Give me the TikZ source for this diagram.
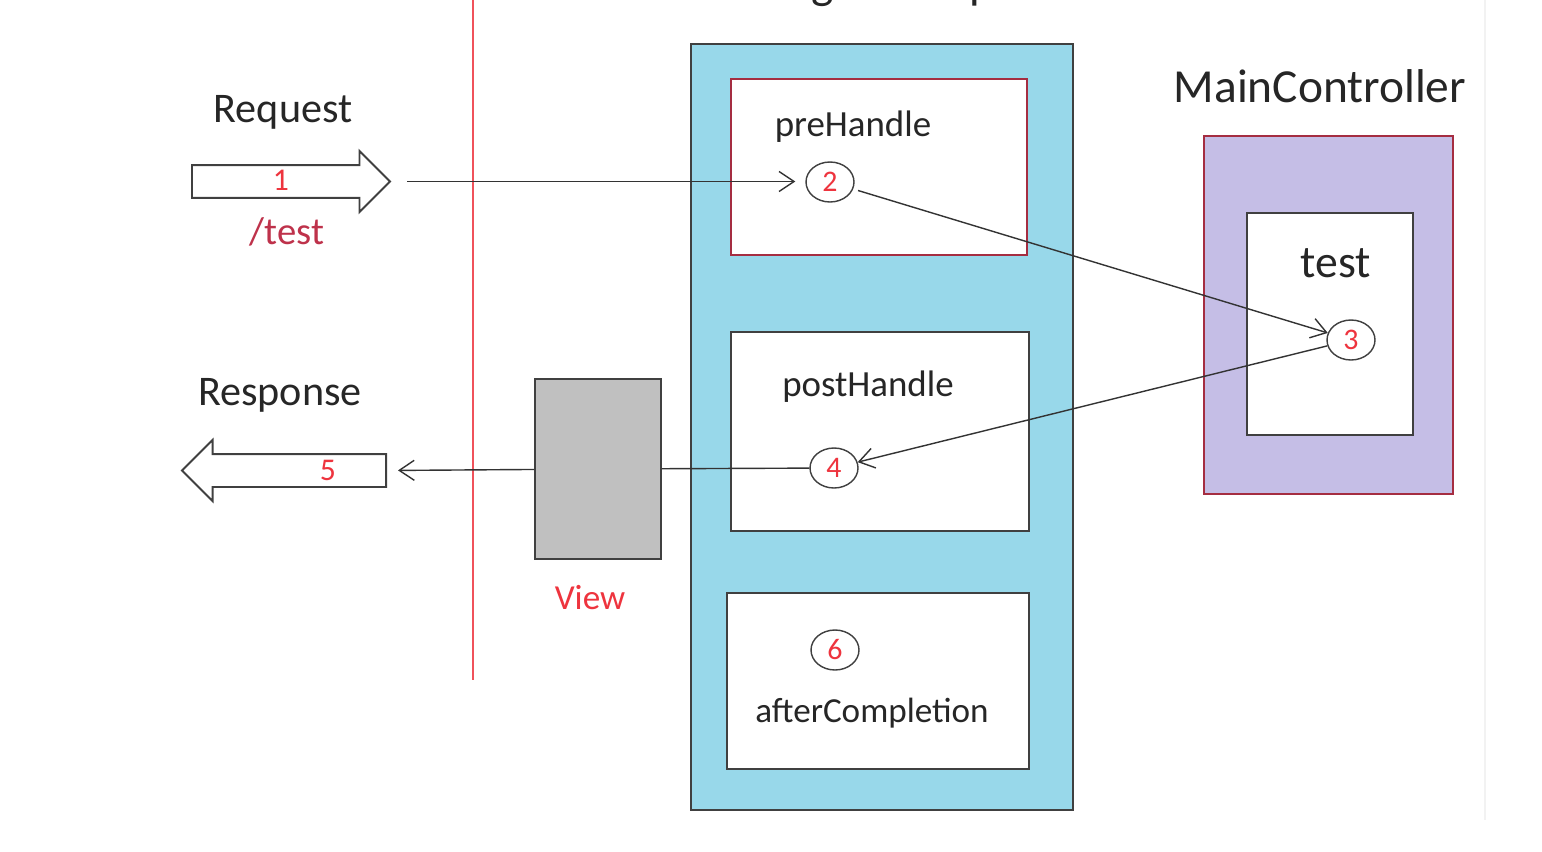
\documentclass[tikz,border=0pt]{standalone}
\usepackage{fontspec}
\setmainfont{Carlito}
\usetikzlibrary{shapes.geometric, shapes.arrows, arrows.meta}
\definecolor{icptblue}{RGB}{152,216,234}
\definecolor{ctrlpurple}{RGB}{197,190,230}
\definecolor{darkred}{RGB}{165,45,65}
\definecolor{numred}{RGB}{238,52,62}
\definecolor{pathred}{RGB}{190,50,75}
\definecolor{viewgray}{RGB}{192,192,192}
\begin{document}
\begin{tikzpicture}[x=0.02cm, y=-0.02cm, >={Straight Barb[length=3mm,width=4mm]},
        box/.style={rectangle, draw=black!75, line width=1.1pt, fill=white},
        num/.style={ellipse, draw=black!75, line width=0.8pt, fill=white, minimum width=0.96cm, minimum height=0.8cm, inner sep=0pt, text=numred, font=\fontsize{17}{20}\selectfont},
        lbl/.style={text=black!85, inner sep=0pt},
        fat/.style={single arrow, draw=black!75, line width=1.1pt, fill=white, inner xsep=0pt, inner ysep=0.31cm, single arrow head extend=0.28cm, anchor=tail},
        flow/.style={draw=black!80, line width=0.8pt}]
        \useasboundingbox (0,0) rectangle (1542,852);
        \draw[black!5, line width=1pt] (1485,0) -- (1485,820);
        \draw[numred!85, line width=1.2pt] (473,0) -- (473,680);
        \node[lbl, anchor=base, font=\fontsize{27}{32}\selectfont] (icpt) at (909,-2) {LogInterceptor};
        \node[box, fill=icptblue, minimum width=7.64cm, minimum height=15.32cm] (inter) at (882,427) {};
        \node[box, draw=darkred, minimum width=5.92cm, minimum height=3.52cm] (pre) at (879,167) {};
        \node[box, minimum width=5.96cm, minimum height=3.98cm] (post) at (880,431.5) {};
        \node[box, minimum width=6.04cm, minimum height=3.52cm] (after) at (878,681) {};
        \node[lbl, font=\fontsize{21}{24}\selectfont] (prelbl) at (853,127) {preHandle};
        \node[lbl, font=\fontsize{21}{24}\selectfont] (postlbl) at (868,387) {postHandle};
        \node[lbl, font=\fontsize{20}{24}\selectfont] (afterlbl) at (872,713) {afterCompletion};
        \node[lbl, font=\fontsize{27}{32}\selectfont] (ctrllbl) at (1320,86) {MainController};
        \node[box, draw=darkred, fill=ctrlpurple, minimum width=4.98cm, minimum height=7.16cm] (ctrl) at (1328.5,315) {};
        \node[box, minimum width=3.32cm, minimum height=4.44cm] (testbox) at (1330,324) {};
        \node[lbl, font=\fontsize{26}{30}\selectfont] (testlbl) at (1336,263) {test};
        \node[lbl, font=\fontsize{24}{28}\selectfont] (reqlbl) at (283,112) {Request};
        \node[lbl, font=\fontsize{24}{28}\selectfont] (resplbl) at (280,395) {Response};
        \node[fat, minimum height=3.96cm] (req) at (191,181.5) {};
        \node[fat, minimum height=4.08cm, shape border rotate=180] (resp) at (387,470.5) {};
        \node[lbl, text=numred, font=\fontsize{18}{20}\selectfont] (one) at (281,180) {1};
        \node[lbl, text=numred, font=\fontsize{18}{20}\selectfont] (five) at (328,470) {5};
        \node[lbl, text=pathred, font=\fontsize{22}{26}\selectfont] (path) at (287,232) {/test};
        \node[box, fill=viewgray, minimum width=2.52cm, minimum height=3.6cm] (view) at (598,469) {};
        \node[lbl, text=numred, font=\fontsize{20}{24}\selectfont] (viewlbl) at (590,598) {View};
        \node[num] (c2) at (830,182) {2};
        \node[num] (c3) at (1351,340) {3};
        \node[num] (c4) at (834,468) {4};
        \node[num] (c6) at (835,650) {6};
        \draw[flow, ->, shorten <=0.32cm, shorten >=0.2cm] (req.tip) -- (req.tip -| c2.west);
        \draw[flow, ->, shorten <=0.1cm] (c2) -- (c3);
        \draw[flow, ->] (c3) -- (c4);
        \draw[flow] (c4) -- (view);
        \draw[flow, ->, shorten >=0.22cm] (view) -- (resp.tail);
    \end{tikzpicture}
\end{document}
